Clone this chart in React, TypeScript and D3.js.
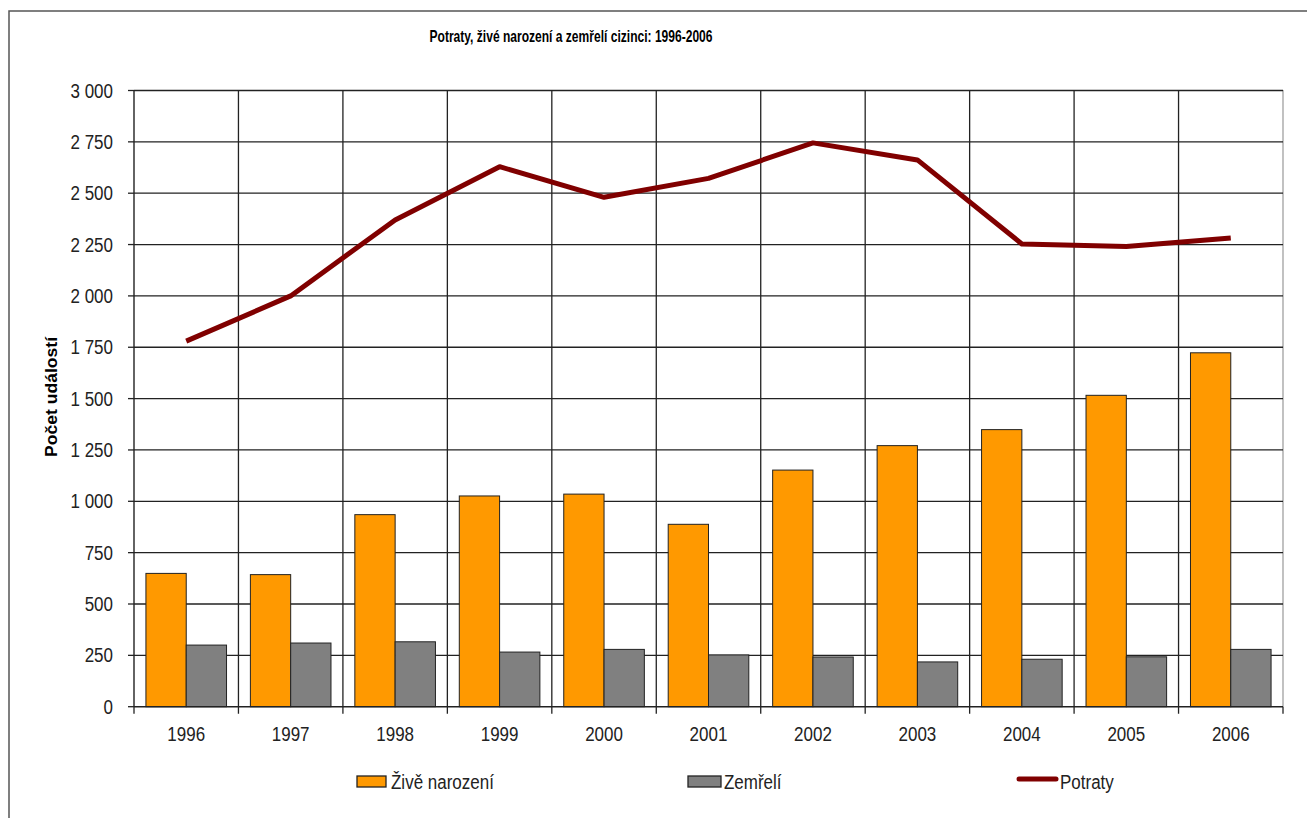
import { useEffect, useRef } from 'react'
import * as d3 from 'd3'

const CHART = {
    width: 1307,
    height: 818,
    left: 134,
    right: 1283,
    top: 90.5,
    bottom: 706.7,
}

const years = ['1996', '1997', '1998', '1999', '2000', '2001', '2002', '2003', '2004', '2005', '2006']
const liveBirths = [649, 643, 935, 1026, 1035, 888, 1152, 1271, 1349, 1516, 1723]
const deaths = [300, 310, 316, 266, 279, 252, 242, 218, 231, 243, 279]
const abortions = [1780, 2000, 2370, 2629, 2480, 2572, 2745, 2662, 2253, 2240, 2282]
const yTicks = [0, 250, 500, 750, 1000, 1250, 1500, 1750, 2000, 2250, 2500, 2750, 3000]

const title = 'Potraty, živé narození a zemřelí cizinci: 1996-2006'
const yTitle = 'Počet událostí'
const seriesNames = ['Živě narození', 'Zemřelí', 'Potraty']

const ORANGE = '#ff9900'
const GREY = '#808080'
const MAROON = '#800000'
const FONT = '"Liberation Sans", Arial, sans-serif'

export default function App() {
    const svgRef = useRef<SVGSVGElement | null>(null)

    useEffect(() => {
        const svg = d3.select(svgRef.current)
            .attr('width', CHART.width)
            .attr('height', CHART.height)
        svg.selectAll('*').remove()

        const x = d3.scaleBand<string>().domain(years).range([CHART.left, CHART.right])
        const inner = d3.scaleBand<string>().domain(['born', 'died'])
            .range([0, x.bandwidth()]).paddingInner(0).paddingOuter(0.296)
        const y = d3.scaleLinear().domain([0, 3000]).range([CHART.bottom, CHART.top])

        // outer frame (only left and top edges are inside the picture)
        svg.append('rect')
            .attr('x', 9).attr('y', 11)
            .attr('width', 1400).attr('height', 900)
            .attr('fill', 'white')
            .attr('stroke', '#555').attr('stroke-width', 1.5)

        // plot border top/right
        svg.append('path')
            .attr('d', `M${CHART.left},${CHART.top} H${CHART.right} V${CHART.bottom}`)
            .attr('fill', 'none').attr('stroke', '#999').attr('stroke-width', 1.2)

        // horizontal gridlines + y ticks
        svg.append('g').selectAll('line')
            .data(yTicks.slice(1))
            .enter().append('line')
            .attr('x1', CHART.left).attr('x2', CHART.right)
            .attr('y1', (d: number) => y(d)).attr('y2', (d: number) => y(d))
            .attr('stroke', '#222').attr('stroke-width', 1.3)
        svg.append('g').selectAll('line')
            .data(yTicks)
            .enter().append('line')
            .attr('x1', CHART.left - 6).attr('x2', CHART.left)
            .attr('y1', (d: number) => y(d)).attr('y2', (d: number) => y(d))
            .attr('stroke', '#222').attr('stroke-width', 1.3)

        // vertical gridlines at category boundaries
        const bounds = years.slice(1).map(d => x(d) as number)
        svg.append('g').selectAll('line')
            .data(bounds)
            .enter().append('line')
            .attr('x1', (d: number) => d).attr('x2', (d: number) => d)
            .attr('y1', CHART.top).attr('y2', CHART.bottom + 7)
            .attr('stroke', '#222').attr('stroke-width', 1.3)
        svg.append('g').selectAll('line')
            .data([CHART.left, CHART.right])
            .enter().append('line')
            .attr('x1', (d: number) => d).attr('x2', (d: number) => d)
            .attr('y1', CHART.bottom).attr('y2', CHART.bottom + 7)
            .attr('stroke', '#222').attr('stroke-width', 1.3)

        // bars
        const bars = svg.append('g')
        bars.selectAll('.born')
            .data(liveBirths)
            .enter().append('rect')
            .attr('x', (d: number, i: number) => (x(years[i]) as number) + (inner('born') as number))
            .attr('y', (d: number) => y(d))
            .attr('width', inner.bandwidth())
            .attr('height', (d: number) => y(0) - y(d))
            .attr('fill', ORANGE).attr('stroke', '#222').attr('stroke-width', 1)
        bars.selectAll('.died')
            .data(deaths)
            .enter().append('rect')
            .attr('x', (d: number, i: number) => (x(years[i]) as number) + (inner('died') as number))
            .attr('y', (d: number) => y(d))
            .attr('width', inner.bandwidth())
            .attr('height', (d: number) => y(0) - y(d))
            .attr('fill', GREY).attr('stroke', '#222').attr('stroke-width', 1)

        // axes lines
        svg.append('line')
            .attr('x1', CHART.left).attr('x2', CHART.left)
            .attr('y1', CHART.top).attr('y2', CHART.bottom)
            .attr('stroke', '#222').attr('stroke-width', 1.4)
        svg.append('line')
            .attr('x1', CHART.left).attr('x2', CHART.right)
            .attr('y1', CHART.bottom).attr('y2', CHART.bottom)
            .attr('stroke', '#222').attr('stroke-width', 1.4)

        // abortions line
        const line = d3.line<number>()
            .x((d, i) => (x(years[i]) as number) + x.bandwidth() / 2)
            .y(d => y(d))
        svg.append('path')
            .attr('d', line(abortions) as string)
            .attr('fill', 'none')
            .attr('stroke', MAROON).attr('stroke-width', 5)
            .attr('stroke-linejoin', 'round')

        // tick labels (slightly tall glyphs as in the original)
        const label = (px: number, py: number, txt: string, anchor: string, size = 17) => {
            svg.append('g')
                .attr('transform', `translate(${px},${py}) scale(1,1.15)`)
                .append('text')
                .attr('text-anchor', anchor)
                .attr('font-family', FONT)
                .attr('font-size', size)
                .attr('fill', '#222')
                .text(txt)
        }
        yTicks.forEach(t => {
            const s = t >= 1000 ? `${Math.floor(t / 1000)} ${String(t % 1000).padStart(3, '0')}` : String(t)
            label(113, y(t) + 7, s, 'end')
        })
        years.forEach(yr => {
            label((x(yr) as number) + x.bandwidth() / 2, 741, yr, 'middle')
        })

        // title
        svg.append('g')
            .attr('transform', 'translate(571,42) scale(1,1.1)')
            .append('text')
            .attr('text-anchor', 'middle')
            .attr('font-family', FONT)
            .attr('font-weight', 'bold')
            .attr('font-size', 15)
            .attr('textLength', 283)
            .attr('lengthAdjust', 'spacingAndGlyphs')
            .text(title)

        // y axis title
        svg.append('text')
            .attr('transform', 'translate(57,397) rotate(-90)')
            .attr('text-anchor', 'middle')
            .attr('font-family', FONT)
            .attr('font-weight', 'bold')
            .attr('font-size', 16)
            .attr('textLength', 120)
            .attr('lengthAdjust', 'spacingAndGlyphs')
            .text(yTitle)

        // legend
        const legend = svg.append('g')
        legend.append('rect')
            .attr('x', 357).attr('y', 776).attr('width', 29).attr('height', 11)
            .attr('fill', ORANGE).attr('stroke', '#222').attr('stroke-width', 1.3)
        label(391, 789, seriesNames[0], 'start')
        legend.append('rect')
            .attr('x', 688).attr('y', 776).attr('width', 33).attr('height', 11)
            .attr('fill', GREY).attr('stroke', '#222').attr('stroke-width', 1.3)
        label(724, 789, seriesNames[1], 'start')
        legend.append('line')
            .attr('x1', 1019).attr('x2', 1056).attr('y1', 779).attr('y2', 779)
            .attr('stroke', MAROON).attr('stroke-width', 5).attr('stroke-linecap', 'round')
        label(1060, 789, seriesNames[2], 'start')
    }, [])

    return (
        <svg ref={svgRef} style={{ position: 'absolute', left: 0, top: 0, display: 'block' }}></svg>
    )
}
